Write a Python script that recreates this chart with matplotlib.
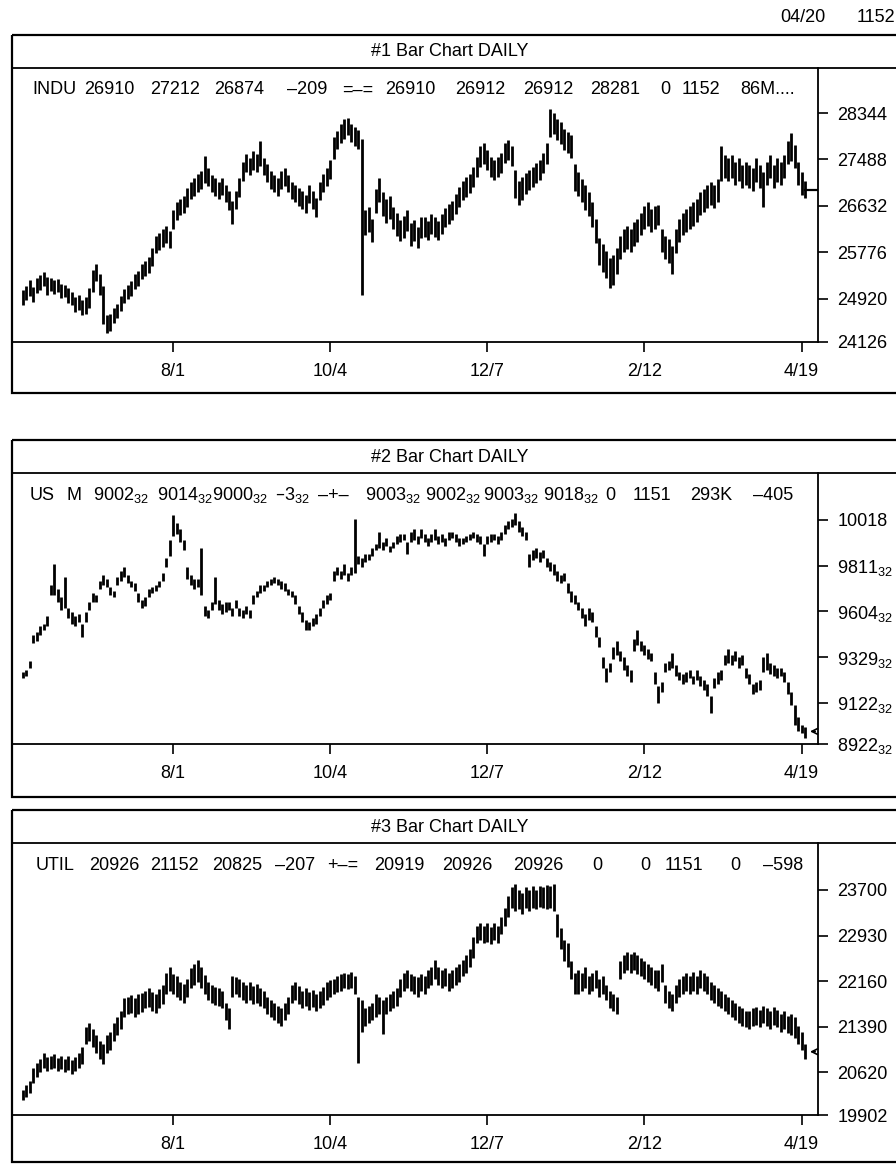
import numpy as np
import matplotlib.pyplot as plt
from matplotlib.patches import Rectangle

plt.rcParams['font.family'] = ['Liberation Sans', 'DejaVu Sans']
plt.rcParams['mathtext.default'] = 'regular'

W, H = 896, 1166

# x axis: bar index of the dated ticks
date_pos = [43, 88, 133, 178, 223]
date_labels = ['8/1', '10/4', '12/7', '2/12', '4/19']

# ---- #1 INDU daily bars (low / high) ----
indu_low = [24800, 24900, 24980, 24870, 25020, 25080, 25150, 25000, 25060, 25010,
            25050, 24930, 24950, 24840, 24800, 24680, 24720, 24620, 24650, 24760,
            25050, 25250, 25000, 24450, 24300, 24330, 24480, 24560, 24700, 24840,
            24920, 24980, 25100, 25160, 25280, 25340, 25400, 25520, 25760, 25820,
            25880, 25950, 25850, 26200, 26380, 26460, 26500, 26620, 26760, 26820,
            26880, 26950, 27060, 27000, 26880, 26820, 26760, 26830, 26700, 26560,
            26300, 26580, 26800, 27100, 27250, 27200, 27300, 27250, 27360, 27200,
            27080, 26950, 26880, 26820, 26940, 27000, 26880, 26760, 26700, 26640,
            26580, 26500, 26690, 26570, 26430, 26750, 26880, 27000, 27120, 27500,
            27680, 27800, 27870, 27930, 27810, 27740, 27680, 25000, 26100, 26150,
            25960, 26500, 26700, 26450, 26320, 26400, 26200, 26080, 25980, 26050,
            26170, 25900, 25980, 25860, 26050, 26060, 26000, 26120, 26060, 26000,
            26120, 26240, 26300, 26370, 26490, 26620, 26740, 26800, 26870, 26990,
            27170, 27350, 27400, 27290, 27170, 27110, 27170, 27230, 27420, 27480,
            27360, 26780, 26650, 26750, 26860, 26920, 26990, 27050, 27110, 27230,
            27400, 27900, 27960, 27850, 27780, 27660, 27600, 27520, 26900, 26820,
            26700, 26560, 26450, 26250, 25950, 25550, 25420, 25300, 25120, 25180,
            25380, 25650, 25780, 25840, 25780, 25900, 25960, 26090, 26210, 26270,
            26150, 26210, 26280, 25780, 25650, 25580, 25370, 25770, 25960, 26090,
            26150, 26210, 26270, 26340, 26460, 26520, 26590, 26650, 26590, 26710,
            27100, 27150, 27090, 27150, 27020, 27090, 26960, 27020, 26960, 26900,
            27080, 26960, 26620, 27020, 27150, 26960, 27080, 27020, 27150, 27400,
            27460, 27340, 27020, 26840, 26780]
indu_high = [25080, 25150, 25260, 25140, 25300, 25360, 25420, 25330, 25300, 25260,
             25290, 25200, 25180, 25120, 25050, 24950, 25000, 24900, 24960, 25120,
             25450, 25560, 25380, 25150, 24620, 24650, 24760, 24820, 24980, 25100,
             25180, 25250, 25380, 25440, 25560, 25620, 25700, 25860, 26080, 26140,
             26200, 26260, 26170, 26560, 26700, 26760, 26820, 26960, 27080, 27150,
             27220, 27280, 27560, 27330, 27200, 27150, 27080, 27140, 27020, 26900,
             26720, 26900, 27150, 27450, 27580, 27520, 27640, 27580, 27830, 27520,
             27400, 27280, 27210, 27150, 27270, 27330, 27210, 27080, 27020, 26960,
             26900, 26840, 27020, 26900, 26780, 27080, 27220, 27340, 27470, 27900,
             28020, 28150, 28230, 28260, 28150, 28090, 28030, 27858, 26560, 26620,
             26400, 26950, 27150, 26880, 26760, 26820, 26620, 26500, 26380, 26440,
             26560, 26320, 26380, 26250, 26430, 26420, 26360, 26480, 26420, 26360,
             26480, 26600, 26660, 26720, 26850, 26980, 27100, 27160, 27220, 27350,
             27540, 27730, 27800, 27670, 27540, 27470, 27540, 27600, 27790, 27850,
             27730, 27300, 27100, 27160, 27230, 27290, 27350, 27420, 27480, 27600,
             27800, 28420, 28350, 28240, 28170, 28050, 27990, 27940, 27400, 27250,
             27130, 27010, 26880, 26700, 26400, 26050, 25930, 25800, 25680, 25720,
             25850, 26080, 26200, 26260, 26200, 26330, 26390, 26510, 26640, 26700,
             26580, 26640, 26650, 26200, 26080, 26020, 25900, 26200, 26390, 26510,
             26580, 26640, 26700, 26760, 26880, 26950, 27010, 27070, 27010, 27130,
             27730, 27570, 27510, 27570, 27450, 27510, 27390, 27450, 27390, 27330,
             27510, 27390, 27260, 27450, 27570, 27390, 27510, 27450, 27570, 27820,
             27980, 27760, 27450, 27260, 27100]
indu_ticks = [24126, 24920, 25776, 26632, 27488, 28344]
indu_tick_labels = ['24126', '24920', '25776', '26632', '27488', '28344']
indu_last = 26925

# ---- #2 US bond daily bars (decimal points) ----
us_low = [92.9, 93.0, 93.4, 94.6, 94.7, 95.0, 95.2, 95.4, 96.9, 96.9,
          96.6, 96.2, 96.3, 95.8, 95.5, 95.4, 95.6, 94.9, 95.6, 96.2,
          96.6, 96.6, 97.2, 97.4, 97.3, 96.9, 96.8, 97.4, 97.6, 97.8,
          97.5, 97.3, 97.1, 96.6, 96.3, 96.4, 96.8, 97.0, 97.1, 97.3,
          97.6, 98.3, 98.8, 99.8, 99.9, 99.5, 99.1, 97.7, 97.4, 97.2,
          97.3, 96.9, 95.9, 95.8, 96.2, 96.5, 96.2, 96.0, 96.1, 96.2,
          95.9, 96.3, 95.9, 95.8, 96.0, 95.8, 96.5, 96.8, 97.0, 97.1,
          97.3, 97.4, 97.5, 97.4, 97.2, 97.1, 96.9, 96.8, 96.5, 96.0,
          95.6, 95.2, 95.2, 95.4, 95.5, 95.9, 96.3, 96.5, 96.7, 97.6,
          97.9, 97.7, 97.9, 97.6, 97.9, 98.0, 98.4, 98.3, 98.5, 98.6,
          98.8, 99.1, 99.2, 99.1, 99.3, 99.0, 99.2, 99.4, 99.5, 99.6,
          98.9, 99.5, 99.6, 99.4, 99.7, 99.5, 99.3, 99.5, 99.6, 99.4,
          99.5, 99.3, 99.6, 99.7, 99.5, 99.3, 99.4, 99.5, 99.6, 99.7,
          99.5, 99.4, 98.8, 99.4, 99.5, 99.6, 99.4, 99.6, 99.9, 100.1,
          100.2, 100.3, 100.0, 99.8, 99.6, 98.3, 98.6, 98.7, 98.5, 98.7,
          98.3, 98.1, 97.9, 97.6, 97.5, 97.6, 97.0, 96.6, 96.5, 96.2,
          95.8, 95.4, 95.7, 95.6, 94.9, 94.4, 93.4, 92.7, 93.2, 93.8,
          94.0, 93.7, 93.3, 93.0, 92.7, 94.2, 94.5, 94.2, 94.0, 93.8,
          93.7, 92.6, 91.7, 92.2, 93.2, 93.3, 93.4, 93.0, 92.8, 92.6,
          92.7, 92.9, 92.6, 92.8, 92.5, 92.3, 92.0, 91.2, 92.4, 92.6,
          92.8, 93.5, 93.6, 93.5, 93.7, 93.4, 93.5, 92.9, 92.6, 92.1,
          92.2, 92.3, 93.2, 93.3, 93.1, 93.0, 92.9, 93.0, 92.7, 92.1,
          91.6, 90.6, 90.3, 90.2, 90.0]
us_high = [93.2, 93.3, 93.7, 95.0, 95.1, 95.4, 95.5, 95.9, 97.4, 98.4,
           97.2, 96.8, 97.8, 96.3, 96.1, 95.9, 96.0, 95.5, 96.1, 96.6,
           97.0, 96.9, 97.6, 97.9, 97.7, 97.3, 97.1, 97.8, 98.1, 98.3,
           97.9, 97.6, 97.5, 97.0, 96.7, 96.8, 97.2, 97.3, 97.4, 97.6,
           98.0, 98.7, 99.6, 100.8, 100.4, 100.1, 99.6, 98.3, 97.9, 97.7,
           97.7, 99.2, 96.4, 96.2, 96.6, 97.8, 96.7, 96.5, 96.6, 96.6,
           96.3, 96.7, 96.3, 96.2, 96.4, 96.2, 96.9, 97.1, 97.4, 97.4,
           97.6, 97.7, 97.8, 97.7, 97.6, 97.5, 97.2, 97.1, 96.9, 96.4,
           96.1, 95.7, 95.6, 95.8, 96.0, 96.3, 96.7, 96.9, 97.0, 98.1,
           98.3, 98.1, 98.4, 98.0, 98.3, 100.6, 98.8, 98.7, 98.9, 98.9,
           99.2, 99.4, 100.0, 99.5, 99.7, 99.3, 99.5, 99.8, 99.9, 99.9,
           99.5, 100.0, 100.1, 99.8, 100.1, 99.9, 99.7, 99.9, 100.1, 99.8,
           99.9, 99.7, 100.0, 100.0, 99.9, 99.7, 99.7, 99.8, 99.9, 100.0,
           99.9, 99.8, 99.4, 99.8, 99.9, 99.9, 99.8, 100.0, 100.3, 100.5,
           100.6, 100.9, 100.5, 100.2, 100.0, 98.9, 99.1, 99.2, 99.0, 99.1,
           98.7, 98.5, 98.4, 98.1, 97.9, 98.0, 97.5, 97.1, 96.9, 96.6,
           96.3, 96.0, 96.3, 96.1, 95.4, 94.9, 93.9, 93.4, 93.6, 94.4,
           94.7, 94.2, 93.9, 93.5, 93.3, 94.8, 95.2, 94.7, 94.5, 94.3,
           94.1, 93.2, 92.5, 92.7, 93.6, 93.7, 94.1, 93.5, 93.2, 93.1,
           93.2, 93.3, 93.0, 93.3, 93.0, 92.8, 92.6, 92.0, 92.9, 93.2,
           93.3, 94.0, 94.3, 94.0, 94.2, 93.9, 94.0, 93.4, 93.1, 92.6,
           92.7, 92.8, 93.9, 94.1, 93.6, 93.5, 93.4, 93.4, 93.2, 92.7,
           92.2, 91.6, 91.0, 90.6, 90.5]
us_ticks = [89.6875, 91.6875, 93.90625, 96.125, 98.34375, 100.5625]
us_tick_labels = [r'8922$_{32}$', r'9122$_{32}$', r'9329$_{32}$',
                  r'9604$_{32}$', r'9811$_{32}$', '10018']
us_last = 90.3

# ---- #3 UTIL daily bars ----
util_low = [20150, 20200, 20280, 20450, 20550, 20620, 20700, 20650, 20680, 20700,
            20640, 20680, 20620, 20660, 20600, 20640, 20700, 20760, 21100, 21150,
            21050, 20950, 20850, 20760, 20950, 21000, 21150, 21250, 21350, 21550,
            21600, 21620, 21560, 21600, 21640, 21700, 21720, 21650, 21620, 21700,
            21780, 21950, 22000, 21950, 21900, 21850, 21800, 21900, 22050, 22100,
            22150, 22050, 21950, 21850, 21800, 21760, 21750, 21700, 21500, 21350,
            21900, 21950, 21900, 21850, 21800, 21850, 21780, 21800, 21750, 21700,
            21600, 21550, 21500, 21450, 21400, 21500, 21600, 21800, 21850, 21780,
            21700, 21750, 21680, 21720, 21650, 21700, 21760, 21850, 21900, 21950,
            21980, 22000, 22050, 22030, 22050, 21950, 20780, 21300, 21400, 21450,
            21500, 21550, 21600, 21270, 21600, 21650, 21700, 21750, 21900, 22000,
            22050, 22000, 21950, 21900, 22000, 21950, 22050, 22100, 22200, 22100,
            22050, 22080, 22000, 22050, 22100, 22150, 22250, 22300, 22400, 22550,
            22800, 22850, 22800, 22830, 22780, 22850, 22800, 22950, 23100, 23250,
            23400, 23350, 23380, 23300, 23400, 23350, 23400, 23380, 23420, 23400,
            23380, 23400, 23350, 22900, 22700, 22500, 22400, 22200, 21950, 21950,
            22000, 22050, 21950, 22000, 22050, 21900, 21950, 21850, 21700, 21650,
            21600, 22200, 22300, 22350, 22300, 22350, 22280, 22250, 22200, 22150,
            22100, 22050, 22000, 22150, 21800, 21700, 21650, 21800, 21900, 21950,
            22000, 21950, 22000, 21950, 22050, 22000, 21950, 21850, 21800, 21750,
            21700, 21650, 21600, 21550, 21500, 21450, 21400, 21380, 21350, 21400,
            21420, 21380, 21450, 21400, 21350, 21420, 21380, 21300, 21350, 21280,
            21250, 21200, 21100, 21000, 20850]
util_high = [20330, 20400, 20480, 20700, 20780, 20850, 20950, 20880, 20900, 20930,
             20860, 20900, 20850, 20890, 20830, 20880, 20950, 21050, 21380, 21450,
             21350, 21250, 21150, 21100, 21250, 21300, 21450, 21550, 21650, 21870,
             21900, 21930, 21880, 21950, 21960, 22000, 22050, 21980, 21950, 22030,
             22100, 22300, 22400, 22280, 22250, 22150, 22120, 22200, 22380, 22450,
             22520, 22400, 22260, 22150, 22100, 22060, 22050, 22000, 21800, 21700,
             22250, 22230, 22200, 22150, 22100, 22150, 22080, 22120, 22050, 22000,
             21900, 21850, 21800, 21750, 21700, 21800, 21900, 22100, 22150, 22080,
             22000, 22050, 21980, 22020, 21950, 22000, 22060, 22150, 22180, 22200,
             22250, 22280, 22300, 22280, 22320, 22250, 21900, 21850, 21700, 21750,
             21800, 21950, 21900, 21850, 21900, 21950, 22000, 22050, 22200, 22300,
             22350, 22280, 22250, 22230, 22280, 22250, 22350, 22400, 22520, 22400,
             22350, 22380, 22300, 22350, 22400, 22450, 22520, 22600, 22700, 22900,
             23100, 23150, 23100, 23150, 23080, 23150, 23100, 23250, 23400, 23600,
             23750, 23800, 23700, 23650, 23750, 23700, 23760, 23700, 23760, 23750,
             23780, 23760, 23800, 23300, 23050, 22850, 22800, 22500, 22300, 22350,
             22300, 22400, 22250, 22300, 22350, 22200, 22250, 22100, 22000, 21950,
             21900, 22500, 22600, 22650, 22620, 22650, 22600, 22550, 22500, 22450,
             22400, 22350, 22350, 22450, 22100, 22000, 21950, 22100, 22200, 22250,
             22300, 22250, 22320, 22250, 22350, 22300, 22250, 22150, 22100, 22050,
             22000, 21950, 21900, 21850, 21800, 21750, 21700, 21650, 21650, 21700,
             21720, 21680, 21750, 21700, 21650, 21720, 21680, 21600, 21650, 21580,
             21600, 21550, 21400, 21300, 21100]
util_ticks = [19902, 20620, 21390, 22160, 22930, 23700]
util_tick_labels = ['19902', '20620', '21390', '22160', '22930', '23700']
util_last = 20970

# header lines: (x pixel, token)
hdr1 = [(32, 'INDU'), (84, '26910'), (150, '27212'), (214, '26874'), (287, '–209'),
        (342, '=–='), (385, '26910'), (455, '26912'), (523, '26912'), (590, '28281'),
        (660, '0'), (682, '1152'), (740, '86M....')]
hdr2 = [(30, 'US'), (66, 'M'), (93, r'9002$_{32}$'), (157, r'9014$_{32}$'),
        (212, r'9000$_{32}$'), (275, r'–3$_{32}$'), (318, '–+–'), (365, r'9003$_{32}$'),
        (425, r'9002$_{32}$'), (483, r'9003$_{32}$'), (543, r'9018$_{32}$'), (605, '0'),
        (633, '1151'), (690, '293K'), (753, '–405')]
hdr3 = [(36, 'UTIL'), (89, '20926'), (150, '21152'), (212, '20825'), (275, '–207'),
        (327, '+–='), (374, '20919'), (442, '20926'), (513, '20926'), (592, '0'),
        (640, '0'), (665, '1151'), (730, '0'), (763, '–598')]

FS = 13
fig = plt.figure(figsize=(W / 100, H / 100), dpi=100)
bg = fig.add_axes([0, 0, 1, 1])
bg.set_xlim(0, W)
bg.set_ylim(H, 0)
bg.axis('off')

bg.text(780, 17, '04/20', fontsize=FS, va='center', ha='left')
bg.text(857, 17, '1152', fontsize=FS, va='center', ha='left')


def px_rect(x0, y0, x1, y1):
    return [x0 / W, 1 - y1 / H, (x1 - x0) / W, (y1 - y0) / H]


def panel(top, bottom, axis_y, num, hdr, low, high, ticks, tlabels, ylim, last, arrow):
    bg.add_patch(Rectangle((12, top), 900, bottom - top, fill=False, lw=1.6, ec='black'))
    bg.plot([12, 900], [top + 33, top + 33], color='black', lw=1.3)
    bg.text(450, top + 17, f'#{num} Bar Chart DAILY', fontsize=FS, ha='center', va='center')
    for x, s in hdr:
        bg.text(x, top + 55, s, fontsize=FS, ha='left', va='center')

    ax = fig.add_axes(px_rect(12, top + 33, 818, axis_y))
    ax.patch.set_visible(False)
    ax.vlines(np.arange(len(low)), low, high, color='black', lw=2.0)
    if arrow:
        ax.annotate('', xy=(224.6, last), xytext=(227.7, last),
                    arrowprops=dict(arrowstyle='->', lw=1.2, color='black'),
                    annotation_clip=False)
    else:
        ax.plot([224, 227.7], [last, last], color='black', lw=1.6)
    ax.set_xlim(-3.15, 227.7)
    ax.set_ylim(*ylim)
    for s in ['top', 'left']:
        ax.spines[s].set_visible(False)
    for s in ['right', 'bottom']:
        ax.spines[s].set_linewidth(1.3)
    ax.yaxis.tick_right()
    ax.set_yticks(ticks)
    ax.set_yticklabels(tlabels, fontsize=FS)
    ax.tick_params(axis='y', direction='out', length=7, width=1.2, pad=7)
    ax.set_xticks(date_pos)
    ax.set_xticklabels(date_labels, fontsize=FS)
    ax.tick_params(axis='x', direction='out', length=7, width=1.2, pad=8)
    return ax


panel(35, 393, 342, 1, hdr1, indu_low, indu_high, indu_ticks, indu_tick_labels,
      (24126, 29173), indu_last, False)
panel(440, 797, 744, 2, hdr2, us_low, us_high, us_ticks, us_tick_labels,
      (89.6875, 102.84), us_last, True)
panel(810, 1162, 1115, 3, hdr3, util_low, util_high, util_ticks, util_tick_labels,
      (19902, 24493), util_last, True)

fig.savefig('out.png', dpi=100)
